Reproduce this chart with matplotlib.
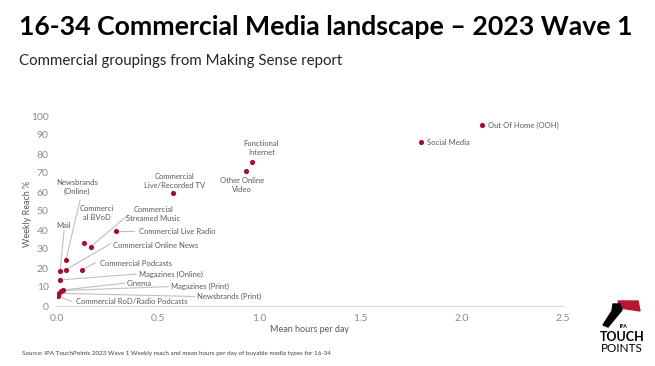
import matplotlib.pyplot as plt
from matplotlib.patches import Polygon

# media types: mean hours per day (x) and weekly reach % (y)
media = [
    "Out Of Home (OOH)", "Social Media", "Functional\nInternet", "Other Online\nVideo",
    "Commercial\nLive/Recorded TV", "Commercial Live Radio", "Commerci\nal BVoD",
    "Commercial\nStreamed Music", "Newsbrands\n(Online)", "Commercial Online News",
    "Mail", "Commercial Podcasts", "Magazines (Online)", "Cinema",
    "Magazines (Print)", "Newsbrands (Print)", "Commercial RoD/Radio Podcasts",
]
hours = [2.10, 1.80, 0.965, 0.935, 0.575, 0.293, 0.135, 0.166, 0.044, 0.044,
         0.015, 0.124, 0.015, 0.03, 0.02, 0.01, 0.003]
reach = [95.1, 86.3, 75.8, 71.2, 59.6, 39.3, 33.2, 31.2, 24.2, 19.1,
         18.3, 19.1, 13.7, 8.4, 8.1, 6.7, 5.3]

# label placement (data coords), alignment, and whether a leader line is drawn
label_pos = [(2.13, 95.1), (1.83, 86.3), (1.01, 83), (0.915, 63.5),
             (0.58, 65.8), (0.407, 39.3), (0.196, 48.8), (0.476, 48.4),
             (0.10, 62.5), (0.278, 32.1), (0.031, 42.5), (0.212, 22.5),
             (0.407, 16.8), (0.344, 11.9), (0.563, 10.5), (0.69, 4.9),
             (0.094, 2.3)]
label_ha = ["left", "left", "center", "center", "center", "left", "center", "center",
            "center", "left", "center", "left", "left", "left", "left", "left", "left"]
leader_end = [None, None, None, None, None, (0.38, 39.3), None, (0.352, 47.9),
              (0.114, 55.8), (0.262, 32.6), (0.035, 40), (0.19, 22.8),
              (0.39, 16.8), (0.335, 12), (0.55, 10.2), (0.68, 5.0), (0.07, 2.5)]

W, H = 655, 366
fig = plt.figure(figsize=(W / 100, H / 100), dpi=100)
plt.rcParams['font.family'] = ['Lato', 'DejaVu Sans']


def fx(x):
    return x / W


def fy(y):
    return 1 - y / H


ax = fig.add_axes([fx(57), fy(306), fx(563) - fx(57), fy(116) - fy(306)])

red = "#A50F2D"
grey = "#595959"
line_grey = "#BFBFBF"

for i in range(len(media)):
    if leader_end[i] is not None:
        ax.plot([hours[i], leader_end[i][0]], [reach[i], leader_end[i][1]],
                color=line_grey, lw=0.8, zorder=1)
    ax.text(label_pos[i][0], label_pos[i][1], media[i], ha=label_ha[i], va="center",
            fontsize=5.5, color=grey, linespacing=1.3, zorder=3)

ax.scatter(hours, reach, s=14, color=red, zorder=4, linewidths=0)

ax.set_xlim(0, 2.5)
ax.set_ylim(0, 100)
ax.set_xticks([0, 0.5, 1.0, 1.5, 2.0, 2.5])
ax.set_xticklabels(["0.0", "0.5", "1.0", "1.5", "2.0", "2.5"])
ax.set_yticks(range(0, 101, 10))
ax.tick_params(axis="both", length=0, labelsize=7.5, colors="#8C8C8C", pad=6)
for s in ["top", "right", "left"]:
    ax.spines[s].set_visible(False)
ax.spines["bottom"].set_color("#D9D9D9")
ax.spines["bottom"].set_linewidth(0.8)

fig.text(fx(309), fy(330), "Mean hours per day", ha="center", va="center",
         fontsize=6.5, color=grey)
fig.text(fx(27), fy(214), "Weekly Reach %", ha="center", va="center",
         rotation=90, fontsize=6.5, color=grey)

fig.text(fx(19), fy(27), "16-34 Commercial Media landscape \u2013 2023 Wave 1",
         ha="left", va="center", fontsize=19.2, fontweight="bold", color="black")
fig.text(fx(19), fy(61), "Commercial groupings from Making Sense report",
         ha="left", va="center", fontsize=10.8, color="#262626")
fig.text(fx(22), fy(353),
         "Source: IPA TouchPoints 2023 Wave 1 Weekly reach and mean hours per day of buyable media types for 16-34",
         ha="left", va="center", fontsize=4.5, color="#404040")

# TouchPoints logo
fig.patches.append(Polygon([(fx(618), fy(301)), (fx(638), fy(301)), (fx(640), fy(311)),
                            (fx(620), fy(308))], closed=True, color="#B5182E",
                           transform=fig.transFigure))
fig.patches.append(Polygon([(fx(613), fy(304)), (fx(620), fy(304)), (fx(622), fy(310)),
                            (fx(608), fy(327)), (fx(603), fy(325)), (fx(612), fy(311))],
                           closed=True, color="black", transform=fig.transFigure))
fig.text(fx(624), fy(326), "IPA", ha="center", va="center", fontsize=3.5,
         fontweight="bold", color="black")
fig.text(fx(622), fy(337), "TOUCH", ha="center", va="center", fontsize=9,
         fontweight="bold", color="black")
fig.text(fx(622), fy(349), "POINTS", ha="center", va="center", fontsize=8.5,
         color="black")

fig.savefig("out.png", dpi=100)
